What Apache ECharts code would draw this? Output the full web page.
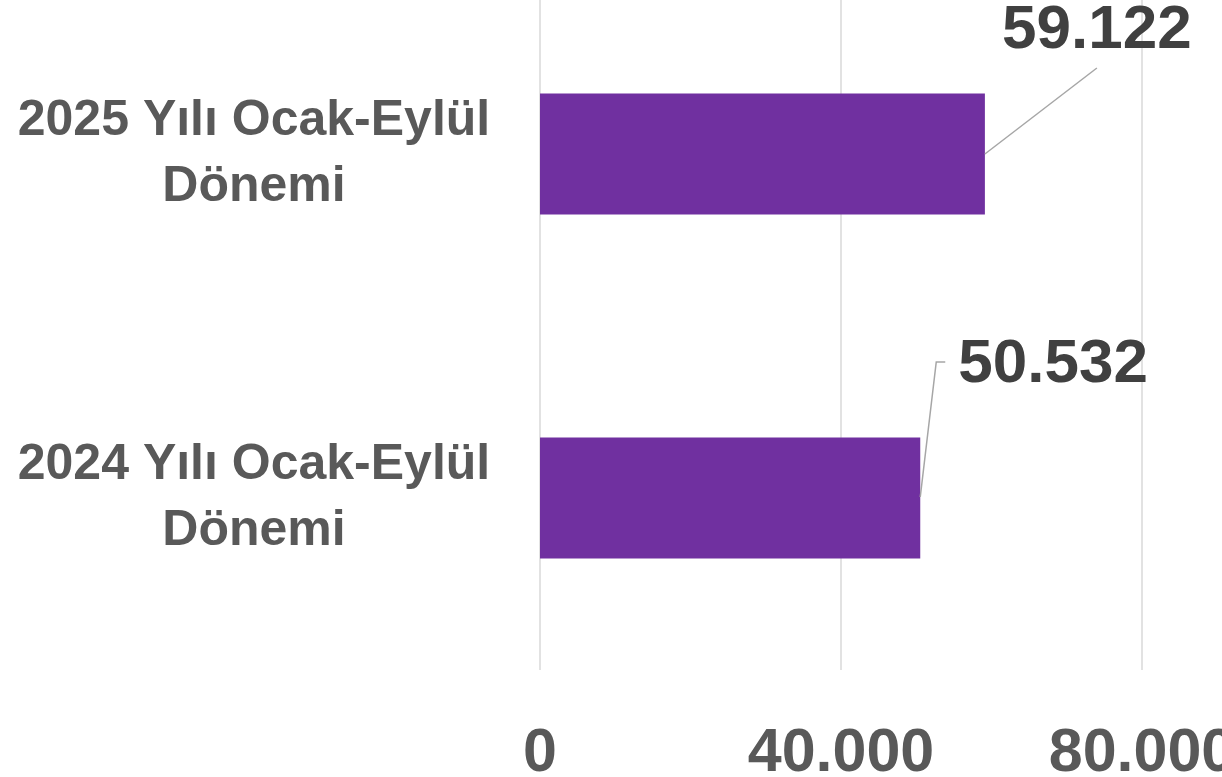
<!DOCTYPE html>
<html>
<head>
<meta charset="utf-8">
<script src="https://cdn.jsdelivr.net/npm/echarts@6/dist/echarts.min.js"></script>
<style>
  html, body { margin: 0; padding: 0; background: #fff; }
  #chart { width: 1222px; height: 777px; }
</style>
</head>
<body>
<div id="chart"></div>
<script>
// categories (bottom -> top)
let categories = ["2024 Yılı Ocak-Eylül\nDönemi", "2025 Yılı Ocak-Eylül\nDönemi"];
let values = [50532, 59122];
// x axis range
let axisMin = 0;
let axisMax = 80000;
let axisStep = 40000;

function fmt(v) {
  return String(v).replace(/\B(?=(\d{3})+(?!\d))/g, ".");
}

// where each data label sits relative to the bar end (leader line bends, text anchor)
let calloutLayout = [
  { line: [[0, -1], [16, -136], [25, -136]], text: [38, -133], align: "left" },
  { line: [[0, 0], [112, -86]], text: [112, -123], align: "center" },
];

let chart = echarts.init(document.getElementById("chart"));
chart.setOption({
  animation: false,
  grid: {
    left: 540,
    right: 80,
    top: -18,
    bottom: 107,
    outerBoundsMode: "none",
  },
  xAxis: {
    type: "value",
    min: axisMin,
    max: axisMax,
    interval: axisStep,
    axisLine: { show: false },
    axisTick: { show: false },
    splitLine: {
      show: true,
      lineStyle: { color: "#d9d9d9", width: 1.5 },
    },
    axisLabel: {
      margin: 54,
      color: "#595959",
      fontFamily: "Liberation Sans",
      fontWeight: "bold",
      fontSize: 61,
      formatter: (v) => fmt(v),
    },
  },
  yAxis: {
    type: "category",
    data: categories,
    axisLine: { show: false },
    axisTick: { show: false },
    axisLabel: {
      align: "center",
      margin: 286,
      color: "#595959",
      fontFamily: "Liberation Sans",
      fontWeight: "bold",
      fontSize: 50,
      lineHeight: 66,
    },
  },
  series: [
    {
      type: "bar",
      data: values,
      barWidth: 121,
      itemStyle: { color: "#7030A0" },
    },
    {
      // data labels with leader lines
      type: "custom",
      data: values.map((v, i) => [v, i]),
      encode: { x: 0, y: 1 },
      z: 5,
      renderItem: (params, api) => {
        let p = api.coord([api.value(0), api.value(1)]);
        let c = calloutLayout[params.dataIndex];
        return {
          type: "group",
          children: [
            {
              type: "polyline",
              shape: { points: c.line.map((o) => [p[0] + o[0], p[1] + o[1]]) },
              style: { stroke: "#a6a6a6", lineWidth: 1.5, fill: null },
            },
            {
              type: "text",
              x: p[0] + c.text[0],
              y: p[1] + c.text[1],
              style: {
                text: fmt(api.value(0)),
                fill: "#404040",
                font: "bold 62px 'Liberation Sans'",
                align: c.align,
                verticalAlign: "middle",
              },
            },
          ],
        };
      },
    },
  ],
});
</script>
</body>
</html>
